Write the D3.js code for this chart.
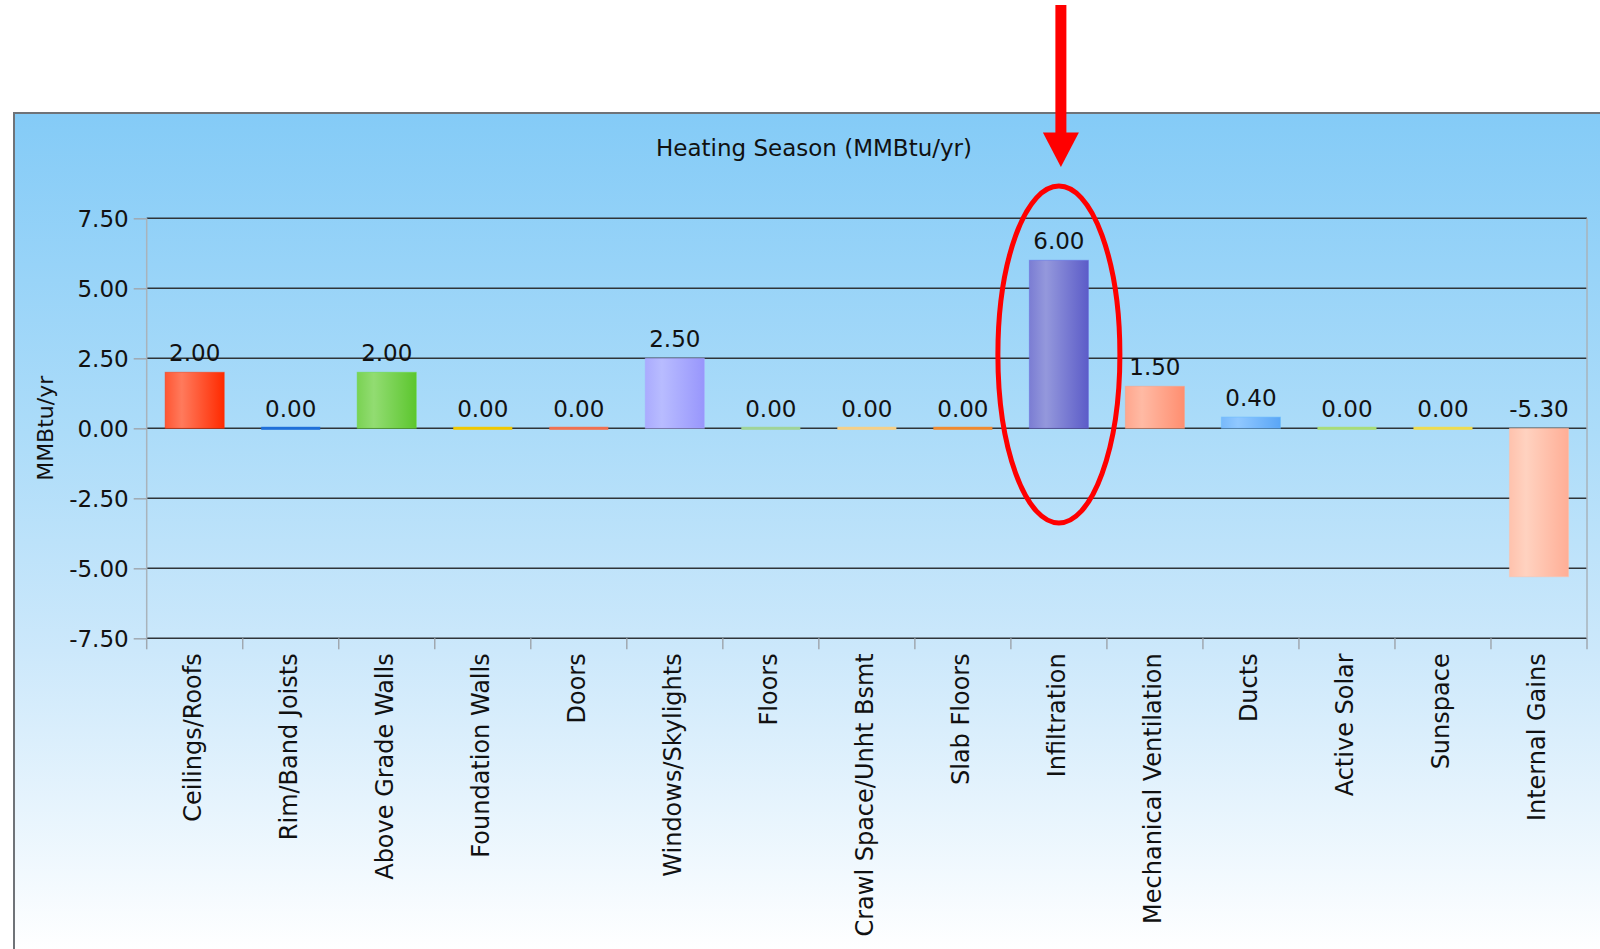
<!DOCTYPE html>
<html>
<head>
<meta charset="utf-8">
<script src="https://cdn.jsdelivr.net/npm/d3@7"></script>
<style>
  html, body { margin: 0; padding: 0; background: #ffffff; }
  svg { display: block; }
  text { font-family: "DejaVu Sans", Verdana, sans-serif; fill: #111; }
</style>
</head>
<body>
<svg id="chart" width="1600" height="949"></svg>
<script>
// Heating season load components (MMBtu/yr)
const categories = [
  "Ceilings/Roofs", "Rim/Band Joists", "Above Grade Walls", "Foundation Walls",
  "Doors", "Windows/Skylights", "Floors", "Crawl Space/Unht Bsmt", "Slab Floors",
  "Infiltration", "Mechanical Ventilation", "Ducts", "Active Solar", "Sunspace",
  "Internal Gains"
];
const values = [2.00, 0.00, 2.00, 0.00, 0.00, 2.50, 0.00, 0.00, 0.00, 6.00, 1.50, 0.40, 0.00, 0.00, -5.30];
// [highlight, base] colour pair for each bar
const barColors = [
  ["#ff7a5c", "#ff2a00"], ["#4a9af0", "#1f6fd8"], ["#92dc72", "#5cc62e"], ["#f6dc30", "#f0c800"],
  ["#f89a80", "#f07050"], ["#b8bcff", "#9896fc"], ["#b8e2b0", "#a0d498"], ["#fbe2a4", "#f5d088"],
  ["#f8a850", "#f08a30"], ["#9498dc", "#5c5cc8"], ["#ffbaa4", "#ff8e70"], ["#90c8ff", "#5aa6f6"],
  ["#c0e898", "#a8dc78"], ["#f6ec80", "#eedc50"], ["#ffd2c0", "#ffae96"]
];
const yTicks = [-7.5, -5.0, -2.5, 0, 2.5, 5.0, 7.5];
const chartTitle = "Heating Season (MMBtu/yr)";
const yTitle = "MMBtu/yr";
const highlighted = "Infiltration";

const svg = d3.select("#chart");
const W = 1600, H = 949;
const plot = { left: 146.7, right: 1587, top: 218.3, bottom: 638.3 };

// numbers use a plain hyphen for the minus sign
const fmt = d3.formatLocale({ decimal: ".", thousands: ",", grouping: [3], currency: ["", ""], minus: "-" }).format(".2f");

const defs = svg.append("defs");

// panel background: sky blue fading to white
const bg = defs.append("linearGradient").attr("id", "bg")
  .attr("x1", 0).attr("y1", 0).attr("x2", 0).attr("y2", 1);
bg.append("stop").attr("offset", "0%").attr("stop-color", "#84cbf7");
bg.append("stop").attr("offset", "38%").attr("stop-color", "#acdcf9");
bg.append("stop").attr("offset", "64%").attr("stop-color", "#cce8fb");
bg.append("stop").attr("offset", "100%").attr("stop-color", "#ffffff");

// cylinder-like shading for each bar
barColors.forEach((c, i) => {
  const g = defs.append("linearGradient").attr("id", "bar" + i)
    .attr("x1", 0).attr("y1", 0).attr("x2", 1).attr("y2", 0);
  g.append("stop").attr("offset", "0%").attr("stop-color", d3.interpolateRgb(c[0], c[1])(0.45));
  g.append("stop").attr("offset", "28%").attr("stop-color", c[0]);
  g.append("stop").attr("offset", "100%").attr("stop-color", c[1]);
});

// chart panel with border
svg.append("rect")
  .attr("x", 14).attr("y", 113).attr("width", W + 10).attr("height", H - 113 + 4)
  .attr("fill", "url(#bg)").attr("stroke", "#6f7378").attr("stroke-width", 2);

const x = d3.scaleBand().domain(categories)
  .range([plot.left, plot.right]).paddingInner(0.385).paddingOuter(0.1925);
const y = d3.scaleLinear().domain([-7.5, 7.5]).range([plot.bottom, plot.top]);

// horizontal grid lines
svg.append("g").selectAll("line").data(yTicks).join("line")
  .attr("x1", plot.left).attr("x2", plot.right)
  .attr("y1", d => y(d)).attr("y2", d => y(d))
  .attr("stroke", "#2f3438").attr("stroke-width", 1.5);

// plot-area side edges
svg.append("line").attr("x1", plot.left).attr("x2", plot.left)
  .attr("y1", plot.top).attr("y2", plot.bottom).attr("stroke", "#a9b3bb").attr("stroke-width", 1.5);
svg.append("line").attr("x1", plot.right).attr("x2", plot.right)
  .attr("y1", plot.top).attr("y2", plot.bottom).attr("stroke", "#a9b3bb").attr("stroke-width", 1.5);

// y axis
const yAxis = svg.append("g").attr("transform", `translate(${plot.left},0)`)
  .call(d3.axisLeft(y).tickValues(yTicks).tickFormat(fmt).tickSize(13).tickPadding(5));
yAxis.select(".domain").remove();
yAxis.selectAll(".tick line").attr("stroke", "#a0a8b0").attr("stroke-width", 1.5);
yAxis.selectAll(".tick text").attr("font-size", 23).attr("font-family", "DejaVu Sans")
  .attr("fill", "#111").attr("dy", "0.36em");

// x axis with boundary ticks between categories
const boundaries = categories.map(c => x(c) - x.step() * x.paddingInner() / 2)
  .concat([plot.right]);
svg.append("g").selectAll("line").data(boundaries).join("line")
  .attr("x1", d => d).attr("x2", d => d)
  .attr("y1", plot.bottom).attr("y2", plot.bottom + 11)
  .attr("stroke", "#a0a8b0").attr("stroke-width", 1.5);

svg.append("g").selectAll("text").data(categories).join("text")
  .attr("transform", d => `translate(${x(d) + x.bandwidth() / 2},${plot.bottom + 15}) rotate(-90)`)
  .attr("text-anchor", "end").attr("dy", "0.27em")
  .attr("font-size", 24)
  .text(d => d);

// bars
const data = categories.map((c, i) => ({ c, v: values[i], i }));
svg.append("g").selectAll("rect").data(data.filter(d => d.v !== 0)).join("rect")
  .attr("x", d => x(d.c)).attr("width", x.bandwidth())
  .attr("y", d => y(Math.max(d.v, 0)))
  .attr("height", d => Math.abs(y(d.v) - y(0)))
  .attr("fill", d => `url(#bar${d.i})`)
  .attr("stroke", d => d3.color(barColors[d.i][1]).brighter(0.3))
  .attr("stroke-opacity", 0.5).attr("stroke-width", 1);

// zero-valued bars show as a coloured strip on the baseline
svg.append("g").selectAll("rect").data(data.filter(d => d.v === 0)).join("rect")
  .attr("x", d => x(d.c)).attr("width", x.bandwidth())
  .attr("y", d => y(d.v) - 1.5).attr("height", 3)
  .attr("fill", d => barColors[d.i][1]);

// value labels
svg.append("g").selectAll("text").data(data).join("text")
  .attr("x", d => x(d.c) + x.bandwidth() / 2)
  .attr("y", d => y(Math.max(d.v, 0)) - 11)
  .attr("text-anchor", "middle").attr("font-size", 23)
  .text(d => fmt(d.v));

// titles
svg.append("text").attr("x", 814).attr("y", 156)
  .attr("text-anchor", "middle").attr("font-size", 23).text(chartTitle);
svg.append("text")
  .attr("transform", `translate(53,${(plot.top + plot.bottom) / 2}) rotate(-90)`)
  .attr("text-anchor", "middle").attr("font-size", 22).text(yTitle);

// call-out on the highlighted category
const hx = x(highlighted) + x.bandwidth() / 2;
const ann = svg.append("g");
ann.append("ellipse")
  .attr("cx", hx).attr("cy", 354.5).attr("rx", 61).attr("ry", 168.5)
  .attr("fill", "none").attr("stroke", "#ff0000").attr("stroke-width", 5);
ann.append("rect")
  .attr("x", hx + 2 - 5.5).attr("y", 5).attr("width", 11).attr("height", 130)
  .attr("fill", "#ff0000");
ann.append("path")
  .attr("d", `M${hx + 2 - 18},132.5 L${hx + 2 + 18},132.5 L${hx + 2},167 Z`)
  .attr("fill", "#ff0000");
</script>
</body>
</html>
